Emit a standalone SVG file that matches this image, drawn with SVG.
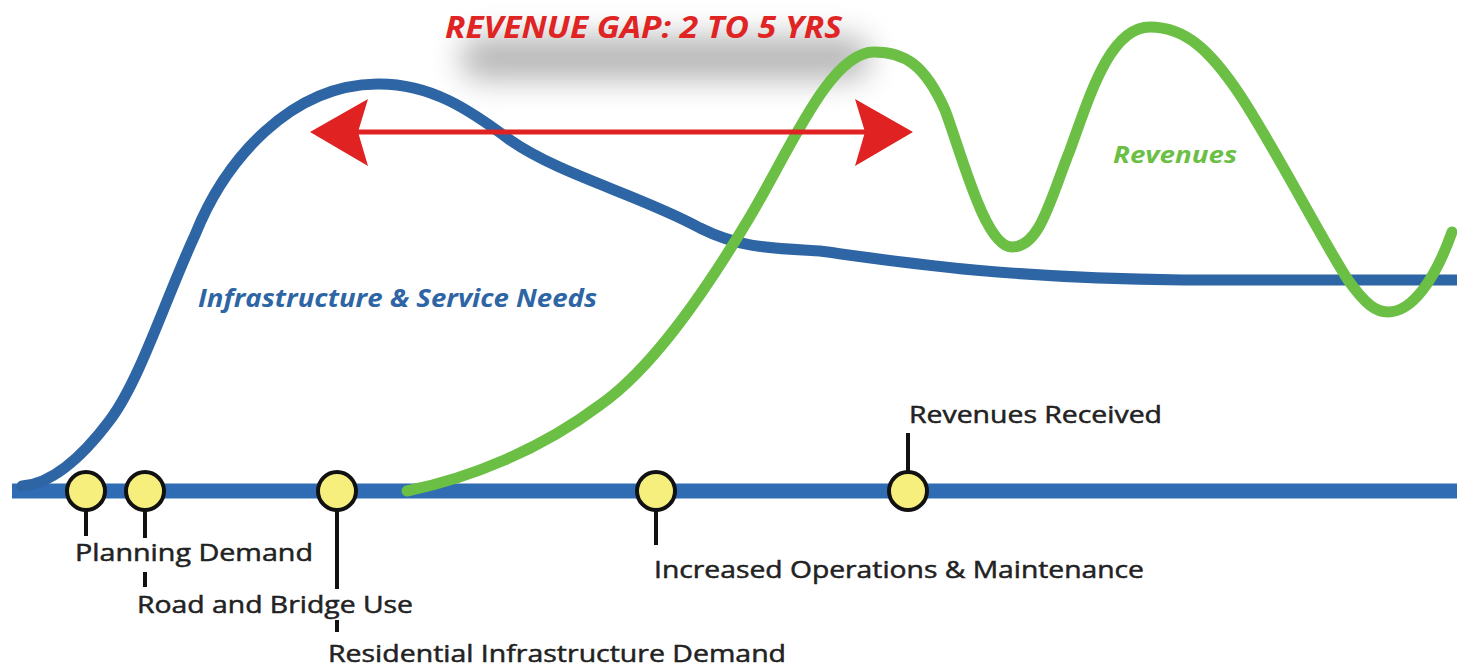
<svg xmlns="http://www.w3.org/2000/svg" width="1457" height="668" viewBox="0 0 1457 668">
<defs>
<filter id="blur" x="-30%" y="-80%" width="160%" height="260%"><feGaussianBlur stdDeviation="15"/></filter>
</defs>
<style>
.lbl{font-family:"Open Sans","Liberation Sans",sans-serif;font-size:24px;fill:#222;stroke:#222;stroke-width:0.5}
.tick{stroke:#111;stroke-width:4;fill:none}
.dot{fill:#f6ef7e;stroke:#111;stroke-width:4}
.curve{fill:none;stroke-width:11;stroke-linecap:round;stroke-linejoin:round}
.ttl{font-family:"Open Sans","Liberation Sans",sans-serif;font-weight:bold;font-style:italic}
</style>
<rect width="1457" height="668" fill="#fff"/>
<g id="title">
<rect x="460" y="36" width="410" height="44" rx="22" fill="#888" opacity="0.6" filter="url(#blur)"/>
<text class="ttl" x="445" y="38" font-size="31" fill="#e02424" textLength="397" lengthAdjust="spacingAndGlyphs">REVENUE GAP: 2 TO 5 YRS</text>
</g>
<g id="connectors">
<path id="baseline" d="M12 491 L1457 491" stroke="#2f6cb4" stroke-width="15" fill="none"/>
<path id="infrastructure-curve" class="curve" stroke="#2e65a4" d="M22 486 C50 484 80 460 110 420 C140 380 165 300 195 235 C225 160 290 85 377 84 C430 83 470 110 510 140 C560 175 640 195 700 228 C740 248 770 248 820 251 C900 262 1000 278 1183 280 L1462 280"/>
<path id="revenue-curve" class="curve" stroke="#6bbf44" d="M407 491 C470 478 540 450 600 405 C650 370 700 300 748 220 C790 150 830 52 874 52 C905 52 925 65 945 110 C962 155 985 247 1012 247 C1040 247 1050 200 1070 150 C1090 95 1110 27 1150 27 C1185 27 1210 50 1240 95 C1275 148 1322 240 1348 280 C1366 305 1376 312 1388 312 C1412 312 1435 280 1452 232" stroke-linecap="butt"/>
<path id="gap-arrow" d="M358 132 L865 132" stroke="#e02222" stroke-width="5" fill="none"/>
<path d="M310 132 L368 99 L358 132 L368 166 Z" fill="#e02222"/>
<path d="M913 132 L855 99 L865 132 L855 166 Z" fill="#e02222"/>
<path class="tick" d="M86 509 V536"/>
<path class="tick" d="M145 509 V538 M145 572 V587"/>
<path class="tick" d="M337 509 V589 M337 620 V632"/>
<path class="tick" d="M656 509 V545"/>
<path class="tick" d="M908 473 V433"/>
</g>
<g id="label-infrastructure"><text class="ttl" x="198" y="307" font-size="25" fill="#2e65a4" textLength="399" lengthAdjust="spacingAndGlyphs">Infrastructure &amp; Service Needs</text></g>
<g id="label-revenues"><text class="ttl" x="1113" y="163" font-size="24" fill="#6bbf44" textLength="124" lengthAdjust="spacingAndGlyphs">Revenues</text></g>
<g id="node-planning"><circle class="dot" cx="86" cy="491" r="19"/><text class="lbl" x="75" y="561" textLength="238" lengthAdjust="spacingAndGlyphs">Planning Demand</text></g>
<g id="node-road"><circle class="dot" cx="145" cy="491" r="19"/><text class="lbl" x="137" y="613" textLength="276" lengthAdjust="spacingAndGlyphs">Road and Bridge Use</text></g>
<g id="node-residential"><circle class="dot" cx="337" cy="491" r="19"/><text class="lbl" x="328" y="662" textLength="458" lengthAdjust="spacingAndGlyphs">Residential Infrastructure Demand</text></g>
<g id="node-operations"><circle class="dot" cx="656" cy="491" r="19"/><text class="lbl" x="654" y="578" textLength="490" lengthAdjust="spacingAndGlyphs">Increased Operations &amp; Maintenance</text></g>
<g id="node-received"><circle class="dot" cx="908" cy="491" r="19"/><text class="lbl" x="909" y="423" textLength="253" lengthAdjust="spacingAndGlyphs">Revenues Received</text></g>
</svg>
